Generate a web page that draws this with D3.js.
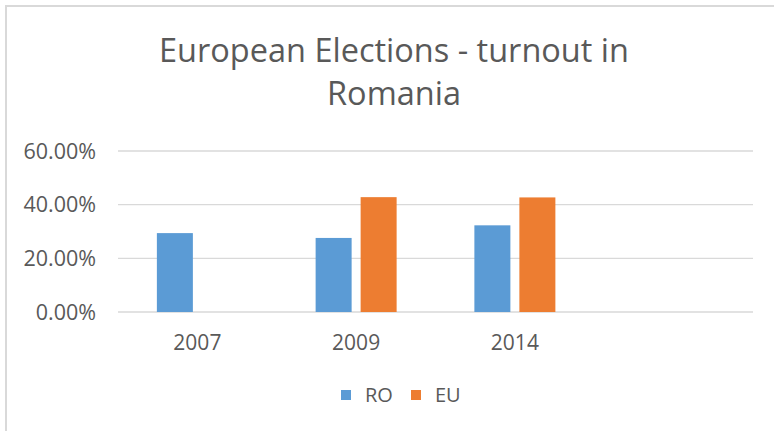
<!DOCTYPE html>
<html>
<head>
<meta charset="utf-8">
<script src="https://cdn.jsdelivr.net/npm/d3@7"></script>
<style>
  body { margin: 0; background: #fff; }
  text { font-family: "Open Sans", "Noto Sans", sans-serif; fill: #595959; }
</style>
</head>
<body>
<script>
'use strict';

// chart data
const categories = ["2007", "2009", "2014", ""];
const seriesNames = ["RO", "EU"];
const roValues = [0.294, 0.276, 0.323, null];
const euValues = [null, 0.428, 0.427, null];
const yTicks = [0, 0.2, 0.4, 0.6];
const titleLines = ["European Elections - turnout in", "Romania"];

const colors = { RO: "#5B9BD5", EU: "#ED7D31" };

(function() {
  const width = 774, height = 431;
  const svg = d3.select("body").append("svg")
    .attr("width", width)
    .attr("height", height);

  // chart frame (only top and left edges show in the picture)
  svg.append("rect")
    .attr("x", 6).attr("y", 6)
    .attr("width", width + 20).attr("height", height + 20)
    .attr("fill", "#fff")
    .attr("stroke", "#d9d9d9")
    .attr("stroke-width", 2);

  // title
  svg.append("text")
    .attr("text-anchor", "middle")
    .style("font-size", "32.5px")
    .selectAll("tspan")
    .data(titleLines)
    .enter()
    .append("tspan")
      .attr("x", 394)
      .attr("y", (d, i) => 62 + i * 43)
      .text(d => d);

  // scales
  const x0 = d3.scaleBand()
    .domain(categories.map((d, i) => i))
    .range([118, 753]);

  const groupWidth = 81;
  const x1 = d3.scaleBand()
    .domain(seriesNames)
    .range([0, groupWidth])
    .paddingInner(0.2);

  const y = d3.scaleLinear()
    .domain([0, 0.6])
    .range([312, 151]);

  // gridlines
  svg.append("g")
    .selectAll("line")
    .data(yTicks)
    .enter()
    .append("line")
      .attr("x1", 118)
      .attr("x2", 753)
      .attr("y1", d => y(d))
      .attr("y2", d => y(d))
      .attr("stroke", "#d9d9d9")
      .attr("stroke-width", 1.3);

  // y axis labels
  const fmt = d3.format(".2%");
  svg.append("g")
    .selectAll("text")
    .data(yTicks)
    .enter()
    .append("text")
      .attr("x", 96)
      .attr("y", d => y(d) + 7.5)
      .attr("text-anchor", "end")
      .style("font-size", "21.5px")
      .text(d => fmt(d));

  // x axis labels
  svg.append("g")
    .selectAll("text")
    .data(categories)
    .enter()
    .append("text")
      .attr("x", (d, i) => x0(i) + x0.bandwidth() / 2)
      .attr("y", 350)
      .attr("text-anchor", "middle")
      .style("font-size", "21px")
      .text(d => d);

  // bars
  const rows = [];
  categories.forEach((c, i) => {
    rows.push({ cat: i, series: "RO", value: roValues[i] });
    rows.push({ cat: i, series: "EU", value: euValues[i] });
  });
  const offset = (x0.bandwidth() - groupWidth) / 2;

  svg.append("g")
    .selectAll("rect")
    .data(rows.filter(d => d.value != null))
    .enter()
    .append("rect")
      .attr("x", d => x0(d.cat) + offset + x1(d.series))
      .attr("y", d => y(d.value))
      .attr("width", x1.bandwidth())
      .attr("height", d => y(0) - y(d.value))
      .attr("fill", d => colors[d.series]);

  // legend
  const legendX = { RO: 341, EU: 411 };
  const legend = svg.append("g");
  seriesNames.forEach(s => {
    legend.append("rect")
      .attr("x", legendX[s])
      .attr("y", 390)
      .attr("width", 10)
      .attr("height", 10)
      .attr("fill", colors[s]);
    legend.append("text")
      .attr("x", legendX[s] + 24)
      .attr("y", 402)
      .style("font-size", "20px")
      .text(s);
  });
})();
</script>
</body>
</html>
